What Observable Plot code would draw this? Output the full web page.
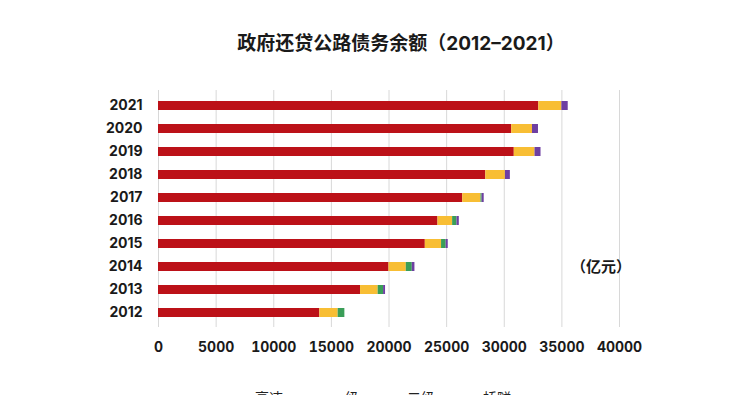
<!DOCTYPE html>
<html>
<head>
<meta charset="utf-8">
<script src="https://cdn.jsdelivr.net/npm/d3@7"></script>
<script src="https://cdn.jsdelivr.net/npm/@observablehq/plot@0.6"></script>
<style>
  html, body { margin: 0; padding: 0; background: #fff; overflow: hidden; width: 744px; height: 395px; }
  #title { height: 70px; box-sizing: border-box; padding-top: 32px; padding-left: 58px; text-align: center;
    font-family: Inter, "Noto Sans CJK SC", sans-serif; font-weight: 700; font-size: 19px; color: #1a1a1a; line-height: 24px; }
  #chart svg { display: block; }
  #legend { position: absolute; top: 388px; left: 239px; display: flex; gap: 32px;
    font-family: "Noto Sans CJK SC", sans-serif; font-size: 14px; color: #222; line-height: 18px; }
  .item { display: flex; align-items: center; gap: 4px; }
  .sw { width: 12px; height: 8px; margin-top: 10px; }
</style>
</head>
<body>
<div id="title">政府还贷公路债务余额（2012–2021）</div>
<div id="chart"></div>
<div id="legend"></div>
<script>
const years = ["2012","2013","2014","2015","2016","2017","2018","2019","2020","2021"];
const seriesNames = ["高速", "一级", "二级", "桥隧"];
const seriesColors = ["#BC1118", "#F8BE34", "#3A9E58", "#6E3FA2"];
const expressway = [14000, 17530, 20000, 23150, 24250, 26400, 28400, 30870, 30650, 33000];
const gradeOne   = [1590, 1530, 1500, 1410, 1270, 1580, 1700, 1800, 1800, 2000];
const gradeTwo   = [580, 470, 520, 400, 380, 100, 0, 0, 0, 0];
const bridges    = [0, 170, 230, 180, 200, 180, 430, 520, 520, 550];
const xTicks = [0, 5000, 10000, 15000, 20000, 25000, 30000, 35000, 40000];
const unitLabel = "（亿元）";

const seriesValues = [expressway, gradeOne, gradeTwo, bridges];
const data = [];
years.forEach((y, i) => {
  seriesNames.forEach((s, j) => {
    data.push({year: y, series: s, value: seriesValues[j][i]});
  });
});

const chart = Plot.plot({
  width: 744,
  height: 300,
  marginLeft: 158,
  marginRight: 125,
  marginTop: 20,
  marginBottom: 43,
  style: {fontFamily: "Inter, 'Noto Sans CJK SC', sans-serif", fontSize: "14px", fontWeight: 700, color: "#1a1a1a"},
  x: {domain: [0, 40000], ticks: xTicks, tickFormat: d => String(d), tickSize: 0, tickPadding: 15, label: null},
  y: {domain: years.slice().reverse(), paddingInner: 0.616, paddingOuter: 0.36, tickSize: 0, tickPadding: 16, label: null},
  color: {domain: seriesNames, range: seriesColors},
  marks: [
    Plot.gridX(xTicks, {stroke: "#d8d8d8", strokeOpacity: 1, strokeWidth: 1}),
    Plot.barX(data, Plot.stackX({x: "value", y: "year", fill: "series", order: seriesNames})),
    Plot.text([{label: unitLabel, x: 38400, year: "2014"}], {x: "x", y: "year", text: "label", fontSize: 15, fontWeight: 700,
      fontFamily: "'Noto Sans CJK SC', sans-serif", fill: "#1a1a1a"})
  ]
});
document.getElementById("chart").appendChild(chart);

const legend = document.getElementById("legend");
seriesNames.forEach((s, j) => {
  const it = document.createElement("div");
  it.className = "item";
  const sw = document.createElement("div");
  sw.className = "sw";
  sw.style.background = seriesColors[j];
  const t = document.createElement("span");
  t.textContent = s;
  it.appendChild(sw);
  it.appendChild(t);
  legend.appendChild(it);
});
</script>
</body>
</html>
